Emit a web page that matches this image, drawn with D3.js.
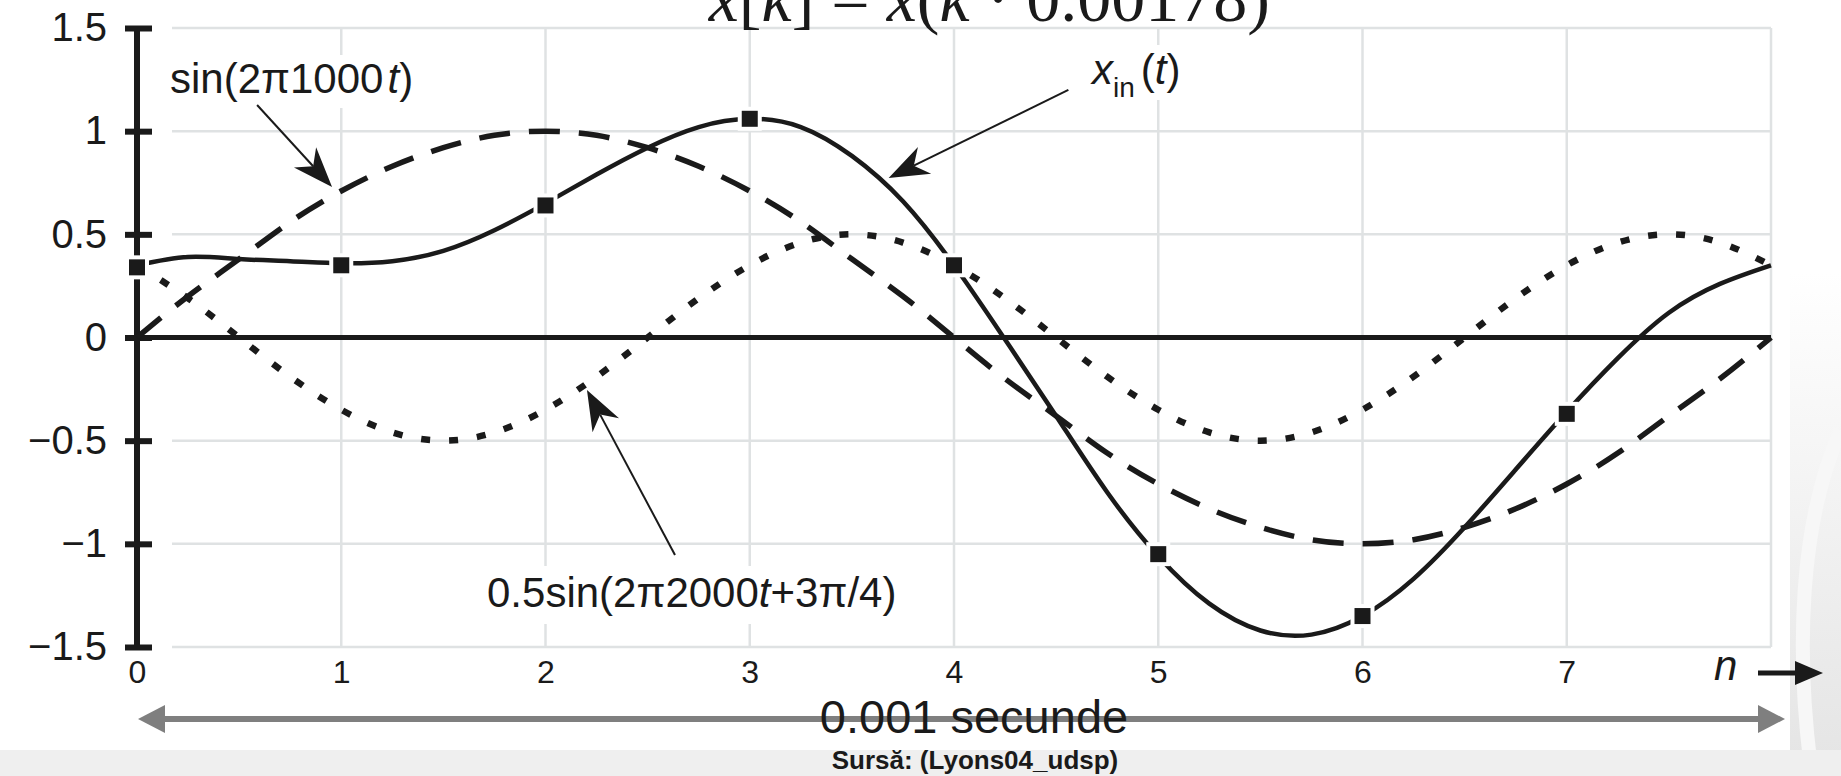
<!DOCTYPE html>
<html>
<head>
<meta charset="utf-8">
<script src="https://cdn.jsdelivr.net/npm/d3@7/dist/d3.min.js"></script>
<style>
    body { margin: 0; background: #fff; }
    svg { display: block; }
    text { font-family: "Liberation Sans", Arial, sans-serif; fill: #1a1a1a; }
</style>
</head>
<body>
<svg id="chart" width="1841" height="776"></svg>
<script>
// sample index n (quarter steps) and the three curves
let nSteps = [0, 0.25, 0.5, 0.75, 1, 1.25, 1.5, 1.75, 2, 2.25, 2.5, 2.75, 3, 3.25, 3.5, 3.75, 4,
    4.25, 4.5, 4.75, 5, 5.25, 5.5, 5.75, 6, 6.25, 6.5, 6.75, 7, 7.25, 7.5, 7.75, 8];
let sin1000 = [0, 0.2, 0.38, 0.56, 0.71, 0.83, 0.92, 0.98, 1, 0.98, 0.92, 0.83, 0.71, 0.56, 0.38, 0.2, 0,
    -0.2, -0.38, -0.56, -0.71, -0.83, -0.92, -0.98, -1, -0.98, -0.92, -0.83, -0.71, -0.56, -0.38, -0.2, 0];
let sin2000 = [0.35, 0.19, 0, -0.19, -0.35, -0.46, -0.5, -0.46, -0.35, -0.19, 0, 0.19, 0.35, 0.46, 0.5, 0.46, 0.35,
    0.19, 0, -0.19, -0.35, -0.46, -0.5, -0.46, -0.35, -0.19, 0, 0.19, 0.35, 0.46, 0.5, 0.46, 0.35];
let xIn = [0.35, 0.39, 0.38, 0.37, 0.36, 0.37, 0.42, 0.52, 0.65, 0.79, 0.92, 1.02, 1.06, 1.02, 0.88, 0.66, 0.35,
    -0.01, -0.38, -0.75, -1.06, -1.29, -1.42, -1.44, -1.35, -1.17, -0.92, -0.64, -0.36, -0.1, 0.12, 0.26, 0.35];

// the samples x[k] (square markers)
let sampleN = [0, 1, 2, 3, 4, 5, 6, 7];
let sampleValues = [0.34, 0.35, 0.64, 1.06, 0.35, -1.05, -1.35, -0.37];

// axis ticks
let yTickValues = [1.5, 1, 0.5, 0, -0.5, -1, -1.5];
let yTickLabels = ["1.5", "1", "0.5", "0", "\u22120.5", "\u22121", "\u22121.5"];
let xTickValues = [0, 1, 2, 3, 4, 5, 6, 7];
let gridY = [1.5, 1, 0.5, -0.5, -1, -1.5];
let gridX = [1, 2, 3, 4, 5, 6, 7, 8];

let svg = d3.select("#chart");

// slide background: white panel, grey band at the bottom and right
let defs = svg.append("defs");
let grad = defs.append("linearGradient").attr("id", "sideGrad")
    .attr("x1", 0).attr("y1", 0).attr("x2", 0).attr("y2", 1);
grad.append("stop").attr("offset", "0.35").attr("stop-color", "#ffffff");
grad.append("stop").attr("offset", "1").attr("stop-color", "#e4e4e4");
svg.append("rect").attr("width", 1841).attr("height", 776).attr("fill", "#fff");
svg.append("rect").attr("x", 1790).attr("y", 0).attr("width", 51).attr("height", 776).attr("fill", "url(#sideGrad)");
svg.append("path")
    .attr("d", "M1841,430 C1800,520 1795,650 1812,776")
    .attr("fill", "none").attr("stroke", "#f7f7f7").attr("stroke-width", 14);
svg.append("rect").attr("x", 0).attr("y", 750).attr("width", 1841).attr("height", 26).attr("fill", "#efefef");

// scales
let x = d3.scaleLinear().domain([0, 8]).range([137, 1771]);
let y = d3.scaleLinear().domain([-1.5, 1.5]).range([647, 28]);

let g = svg.append("g");

// grid
g.selectAll(".gridY").data(gridY).enter().append("line")
    .attr("x1", x(0) + 35).attr("x2", x(8))
    .attr("y1", d => y(d)).attr("y2", d => y(d))
    .attr("stroke", "#dfe2e3").attr("stroke-width", 2.5);
g.selectAll(".gridX").data(gridX).enter().append("line")
    .attr("x1", d => x(d)).attr("x2", d => x(d))
    .attr("y1", y(1.5)).attr("y2", y(-1.5))
    .attr("stroke", "#dfe2e3").attr("stroke-width", 2.5);

// title (only its lower half is on the slide)
let title = svg.append("text")
    .attr("x", 1270).attr("y", 21)
    .attr("text-anchor", "end")
    .style("font-family", "'Liberation Serif', 'Times New Roman', serif")
    .style("font-size", "68px");
title.append("tspan").style("font-style", "italic").text("x");
title.append("tspan").text("[");
title.append("tspan").style("font-style", "italic").text("k");
title.append("tspan").text("] = ");
title.append("tspan").style("font-style", "italic").text("x");
title.append("tspan").text("(");
title.append("tspan").style("font-style", "italic").text("k");
title.append("tspan").text(" \u00b7 0.00178)");

// white boxes under the annotation labels (they cut the grid)
let labelBoxes = [[160, 55, 258, 53], [1078, 45, 120, 55], [478, 566, 422, 58]];
g.selectAll(".lblBox").data(labelBoxes).enter().append("rect")
    .attr("x", d => d[0]).attr("y", d => d[1])
    .attr("width", d => d[2]).attr("height", d => d[3])
    .attr("fill", "#fff");

// zero line
g.append("line")
    .attr("x1", x(0) - 12).attr("x2", x(8))
    .attr("y1", y(0)).attr("y2", y(0))
    .attr("stroke", "#1a1a1a").attr("stroke-width", 5);

// y axis
let yAxis = g.append("g")
    .attr("transform", "translate(" + x(0) + ",0)")
    .call(d3.axisLeft(y).tickValues(yTickValues)
        .tickFormat((d, i) => yTickLabels[i])
        .tickSizeInner(12).tickSizeOuter(0).tickPadding(18));
yAxis.select(".domain").attr("stroke", "#1a1a1a").attr("stroke-width", 6)
    .attr("d", "M0," + y(1.5) + "V" + y(-1.5));
yAxis.selectAll(".tick line").attr("x1", -12).attr("x2", 15)
    .attr("stroke", "#1a1a1a").attr("stroke-width", 6);
yAxis.selectAll(".tick text")
    .style("font-size", "40px").style("font-family", "'Liberation Sans', Arial, sans-serif")
    .attr("fill", "#1a1a1a");

// x axis labels
let xAxis = g.append("g")
    .attr("transform", "translate(0," + y(-1.5) + ")")
    .call(d3.axisBottom(x).tickValues(xTickValues).tickSize(0).tickPadding(13));
xAxis.select(".domain").remove();
xAxis.selectAll(".tick text")
    .style("font-size", "32px").style("font-family", "'Liberation Sans', Arial, sans-serif")
    .attr("fill", "#1a1a1a");

// n label with its arrow
svg.append("text").attr("x", 1714).attr("y", 680)
    .style("font-size", "42px").style("font-style", "italic").text("n");
svg.append("line").attr("x1", 1758).attr("x2", 1800).attr("y1", 673).attr("y2", 673)
    .attr("stroke", "#1a1a1a").attr("stroke-width", 5);
svg.append("path").attr("d", "M1823,673 L1795,661 L1795,685 Z").attr("fill", "#1a1a1a");

// curves
let line = d3.line()
    .x((d, i) => x(nSteps[i]))
    .y(d => y(d))
    .curve(d3.curveNatural);

g.append("path").datum(sin2000).attr("d", line)
    .attr("fill", "none").attr("stroke", "#1a1a1a")
    .attr("stroke-width", 6.5).attr("stroke-dasharray", "9 19");
g.append("path").datum(sin1000).attr("d", line)
    .attr("fill", "none").attr("stroke", "#1a1a1a")
    .attr("stroke-width", 5.5).attr("stroke-dasharray", "31 19");
g.append("path").datum(xIn).attr("d", line)
    .attr("fill", "none").attr("stroke", "#1a1a1a")
    .attr("stroke-width", 4.5);

// sample markers with white halo
g.selectAll(".halo").data(sampleValues).enter().append("rect")
    .attr("x", (d, i) => x(sampleN[i]) - 12).attr("y", d => y(d) - 12)
    .attr("width", 24).attr("height", 24).attr("fill", "#fff");
g.selectAll(".marker").data(sampleValues).enter().append("rect")
    .attr("x", (d, i) => x(sampleN[i]) - 8).attr("y", d => y(d) - 8)
    .attr("width", 16).attr("height", 16).attr("fill", "#1a1a1a");

// annotation arrows (tip and tail in data units)
let arrows = [
    {tip: [0.955, 0.73], tail: [0.588, 1.127]},
    {tip: [3.68, 0.773], tail: [4.56, 1.2]},
    {tip: [2.203, -0.254], tail: [2.634, -1.054]}
];
arrows.forEach(function (a) {
    let tx = x(a.tip[0]), ty = y(a.tip[1]);
    let fx = x(a.tail[0]), fy = y(a.tail[1]);
    let len = Math.hypot(fx - tx, fy - ty);
    let ux = (fx - tx) / len, uy = (fy - ty) / len;
    let px = -uy, py = ux;
    let L = 40, W = 15, N = 28;
    g.append("line")
        .attr("x1", fx).attr("y1", fy)
        .attr("x2", tx + ux * N).attr("y2", ty + uy * N)
        .attr("stroke", "#1a1a1a").attr("stroke-width", 2);
    g.append("path")
        .attr("d", "M" + tx + "," + ty +
            "L" + (tx + ux * L + px * W) + "," + (ty + uy * L + py * W) +
            "L" + (tx + ux * N) + "," + (ty + uy * N) +
            "L" + (tx + ux * L - px * W) + "," + (ty + uy * L - py * W) + "Z")
        .attr("fill", "#1a1a1a");
});

// annotation labels
let t1 = g.append("text").attr("x", 170).attr("y", 93).style("font-size", "42px");
t1.append("tspan").text("sin(2\u03c01000");
t1.append("tspan").attr("dx", 4).style("font-style", "italic").text("t");
t1.append("tspan").text(")");

let t2 = g.append("text").attr("x", 1092).attr("y", 84).style("font-size", "42px");
t2.append("tspan").style("font-style", "italic").text("x");
t2.append("tspan").attr("dy", 13).style("font-size", "28px").text("in");
t2.append("tspan").attr("dy", -13).attr("dx", 6).text("(");
t2.append("tspan").style("font-style", "italic").text("t");
t2.append("tspan").text(")");

let t3 = g.append("text").attr("x", 487).attr("y", 607).style("font-size", "42px");
t3.append("tspan").text("0.5sin(2\u03c02000");
t3.append("tspan").style("font-style", "italic").text("t");
t3.append("tspan").text("+3\u03c0/4)");

// duration arrow below the axis
let arrowY = 719;
svg.append("line").attr("x1", 160).attr("x2", 1762).attr("y1", arrowY).attr("y2", arrowY)
    .attr("stroke", "#7f7f7f").attr("stroke-width", 6);
svg.append("path").attr("d", "M138," + arrowY + " L165," + (arrowY - 14) + " L165," + (arrowY + 14) + " Z")
    .attr("fill", "#7f7f7f");
svg.append("path").attr("d", "M1785," + arrowY + " L1758," + (arrowY - 14) + " L1758," + (arrowY + 14) + " Z")
    .attr("fill", "#7f7f7f");

svg.append("text").attr("x", 974).attr("y", 733).attr("text-anchor", "middle")
    .style("font-size", "47px").attr("fill", "#000").text("0.001 secunde");
svg.append("text").attr("x", 975).attr("y", 769).attr("text-anchor", "middle")
    .style("font-size", "26px").style("font-weight", "bold").attr("fill", "#000")
    .text("Surs\u0103: (Lyons04_udsp)");
</script>
</body>
</html>
